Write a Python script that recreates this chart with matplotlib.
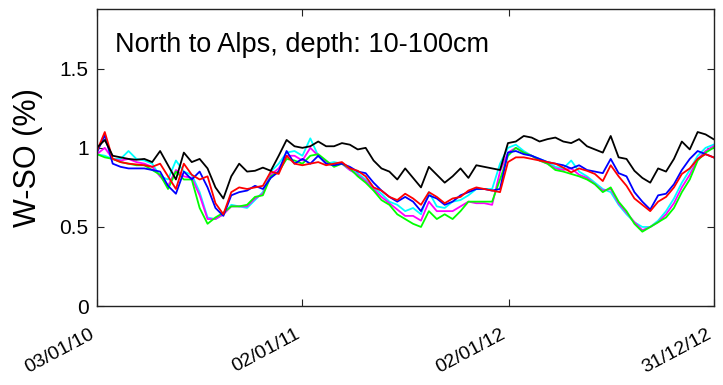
import matplotlib
matplotlib.use('Agg')
import matplotlib.pyplot as plt
import numpy as np
import pandas as pd

plt.rcParams['font.family'] = ['Liberation Sans', 'DejaVu Sans']

# biweekly samples, 03/01/10 .. 30/12/12
dates = pd.date_range('2010-01-03', periods=79, freq='14D')

black = [1.00, 1.05, 0.95, 0.94, 0.93, 0.925, 0.93, 0.91, 0.98, 0.89,
         0.80, 0.97, 0.91, 0.93, 0.87, 0.75, 0.68, 0.82, 0.90, 0.85,
         0.855, 0.875, 0.855, 0.95, 1.05, 1.01, 1.00, 1.01, 1.04, 1.01,
         1.01, 1.03, 1.02, 0.99, 1.00, 0.92, 0.87, 0.85, 0.80, 0.87,
         0.81, 0.75, 0.88, 0.83, 0.78, 0.82, 0.87, 0.81, 0.89, 0.88,
         0.87, 0.86, 1.03, 1.04, 1.075, 1.065, 1.04, 1.055, 1.065, 1.04,
         1.03, 1.055, 1.01, 0.99, 0.97, 1.075, 0.94, 0.93, 0.855, 0.81,
         0.78, 0.87, 0.85, 0.93, 1.04, 0.99, 1.10, 1.085, 1.055]

red = [0.98, 1.10, 0.93, 0.91, 0.90, 0.895, 0.89, 0.88, 0.90, 0.82,
       0.74, 0.90, 0.83, 0.80, 0.82, 0.65, 0.58, 0.72, 0.75, 0.74,
       0.75, 0.76, 0.85, 0.835, 0.95, 0.90, 0.89, 0.90, 0.91, 0.89,
       0.90, 0.91, 0.87, 0.855, 0.82, 0.75, 0.73, 0.69, 0.67, 0.71,
       0.68, 0.64, 0.72, 0.69, 0.65, 0.68, 0.69, 0.73, 0.75, 0.74,
       0.73, 0.72, 0.91, 0.94, 0.94, 0.93, 0.92, 0.91, 0.90, 0.875,
       0.845, 0.87, 0.855, 0.835, 0.79, 0.89, 0.82, 0.76, 0.68, 0.64,
       0.60, 0.66, 0.69, 0.75, 0.835, 0.87, 0.93, 0.96, 0.94]

blue = [0.97, 1.08, 0.90, 0.88, 0.87, 0.87, 0.87, 0.86, 0.85, 0.76,
        0.71, 0.85, 0.80, 0.85, 0.75, 0.62, 0.57, 0.70, 0.72, 0.73,
        0.76, 0.74, 0.81, 0.85, 0.98, 0.90, 0.93, 0.90, 0.95, 0.90,
        0.89, 0.90, 0.88, 0.85, 0.84, 0.78, 0.73, 0.69, 0.66, 0.69,
        0.66, 0.60, 0.70, 0.68, 0.64, 0.66, 0.70, 0.72, 0.74, 0.74,
        0.73, 0.74, 0.97, 0.98, 0.96, 0.95, 0.93, 0.91, 0.90, 0.89,
        0.87, 0.89, 0.86, 0.85, 0.84, 0.93, 0.84, 0.82, 0.72, 0.66,
        0.61, 0.70, 0.71, 0.77, 0.86, 0.93, 0.98, 0.96, 0.94]

green = [0.96, 0.94, 0.93, 0.91, 0.90, 0.89, 0.89, 0.86, 0.83, 0.74,
         0.85, 0.80, 0.80, 0.62, 0.52, 0.56, 0.59, 0.63, 0.63, 0.64,
         0.69, 0.70, 0.82, 0.85, 0.93, 0.92, 0.90, 0.95, 0.96, 0.92,
         0.88, 0.90, 0.87, 0.82, 0.78, 0.73, 0.67, 0.64, 0.58, 0.55,
         0.52, 0.50, 0.60, 0.55, 0.58, 0.55, 0.60, 0.66, 0.66, 0.66,
         0.66, 0.80, 0.95, 1.00, 0.97, 0.95, 0.92, 0.90, 0.86, 0.85,
         0.835, 0.82, 0.80, 0.77, 0.72, 0.75, 0.66, 0.60, 0.52, 0.47,
         0.50, 0.53, 0.56, 0.62, 0.72, 0.80, 0.92, 0.97, 1.00]

cyan = [0.96, 0.95, 0.93, 0.93, 0.98, 0.93, 0.92, 0.90, 0.82, 0.80,
        0.92, 0.85, 0.83, 0.72, 0.56, 0.55, 0.58, 0.64, 0.63, 0.62,
        0.67, 0.72, 0.85, 0.90, 0.97, 0.98, 0.95, 1.06, 0.95, 0.90,
        0.91, 0.90, 0.86, 0.84, 0.80, 0.75, 0.71, 0.66, 0.64, 0.60,
        0.62, 0.58, 0.72, 0.63, 0.62, 0.66, 0.67, 0.70, 0.74, 0.74,
        0.74, 0.90, 1.00, 1.02, 0.98, 0.95, 0.93, 0.91, 0.88, 0.87,
        0.92, 0.85, 0.82, 0.78, 0.74, 0.72, 0.64, 0.58, 0.53, 0.50,
        0.50, 0.54, 0.60, 0.68, 0.78, 0.86, 0.95, 1.00, 1.02]

magenta = [0.96, 1.00, 0.93, 0.92, 0.93, 0.91, 0.90, 0.88, 0.82, 0.76,
           0.86, 0.82, 0.81, 0.70, 0.55, 0.55, 0.58, 0.63, 0.63, 0.63,
           0.68, 0.71, 0.83, 0.87, 0.95, 0.95, 0.92, 1.00, 0.95, 0.91,
           0.89, 0.90, 0.86, 0.83, 0.79, 0.74, 0.69, 0.65, 0.61, 0.57,
           0.57, 0.54, 0.66, 0.60, 0.60, 0.60, 0.63, 0.66, 0.65, 0.65,
           0.64, 0.85, 0.97, 1.00, 0.97, 0.95, 0.92, 0.90, 0.87, 0.86,
           0.87, 0.83, 0.81, 0.77, 0.73, 0.74, 0.65, 0.59, 0.53, 0.48,
           0.50, 0.53, 0.58, 0.65, 0.75, 0.83, 0.93, 0.98, 1.01]

tick_dates = pd.to_datetime(['2010-01-03', '2011-01-02', '2012-01-02', '2012-12-31'])
tick_labels = ['03/01/10', '02/01/11', '02/01/12', '31/12/12']
y_ticks = [0, 0.5, 1, 1.5]
y_tick_labels = ['0', '0.5', '1', '1.5']

fig = plt.figure(figsize=(7.23, 3.85), dpi=100)
ax = fig.add_axes([0.134, 0.205, 0.8536, 0.7706])

series = [(cyan, '#00ffff'), (magenta, '#ff00ff'), (green, '#00ff00'),
          (blue, '#0000ff'), (red, '#ff0000'), (black, '#000000')]
for vals, col in series:
    ax.plot(dates, vals, color=col, lw=1.3)

ax.set_xlim(tick_dates[0], tick_dates[-1])
ax.set_ylim(0, 1.875)
ax.set_xticks(tick_dates)
ax.set_xticklabels(tick_labels, rotation=28, ha='right', va='top', fontsize=14)
ax.set_yticks(y_ticks)
ax.set_yticklabels(y_tick_labels, fontsize=15)
ax.tick_params(direction='in', length=5, width=0.8, top=True, right=True, colors='#222222',
               labelcolor='black')
ax.tick_params(axis='x', pad=14)
ax.tick_params(axis='y', pad=6)
for sp in ax.spines.values():
    sp.set_linewidth(1.0)
    sp.set_color('#222222')

ax.set_ylabel('W-SO (%)', fontsize=22, labelpad=12)
ax.text(0.029, 0.88, 'North to Alps, depth: 10-100cm', transform=ax.transAxes,
        fontsize=19.5, va='center', ha='left')

fig.savefig('out.png', dpi=100)
